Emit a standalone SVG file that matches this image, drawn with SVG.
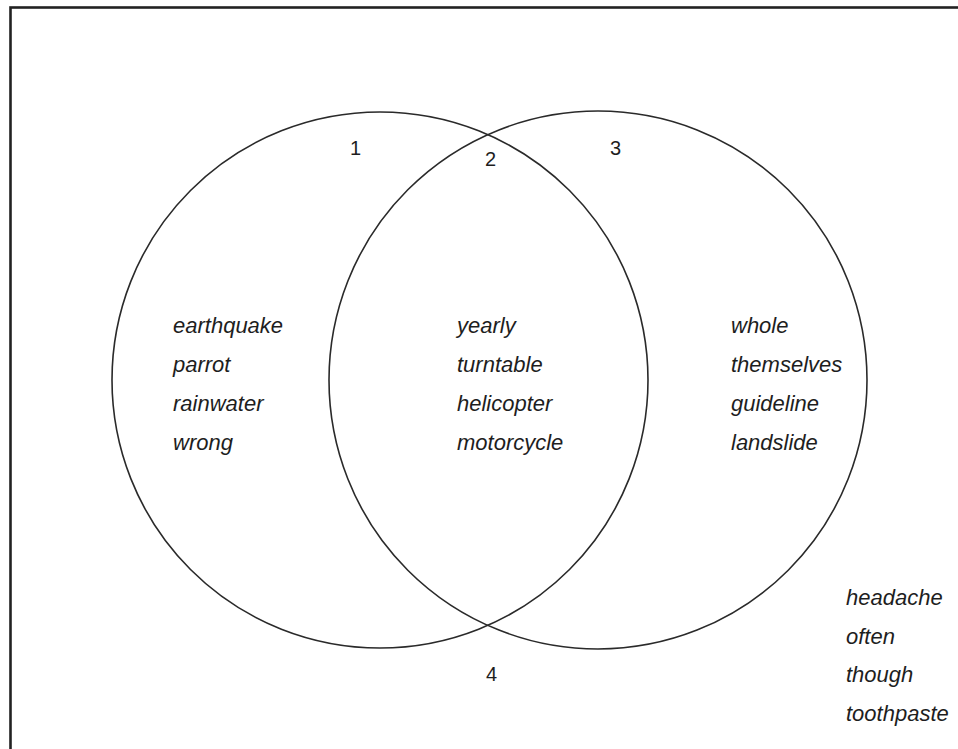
<svg xmlns="http://www.w3.org/2000/svg" width="958" height="749" viewBox="0 0 958 749">
  <style>
    .set { fill: none; stroke: #2a2a2a; stroke-width: 1.6; }
    .word { font-family: "Liberation Sans", Arial, sans-serif; font-style: italic; font-size: 22px; fill: #1e1e1e; }
    .num { font-family: "Liberation Sans", Arial, sans-serif; font-size: 20px; fill: #1e1e1e; }
  </style>
  <rect x="0" y="0" width="958" height="749" fill="#ffffff"/>
  <!-- frame: only the top and left edges fall inside the canvas -->
  <rect x="10.5" y="7.5" width="1000" height="1000" fill="none" stroke="#222222" stroke-width="2.6"/>

  <g id="set-left">
    <circle class="set" cx="380" cy="380" r="268"/>
  </g>
  <g id="set-right">
    <circle class="set" cx="598" cy="380" r="269"/>
  </g>

  <g id="region-labels">
    <text class="num" x="350" y="155">1</text>
    <text class="num" x="485" y="166">2</text>
    <text class="num" x="610" y="155">3</text>
    <text class="num" x="486" y="681">4</text>
  </g>

  <g id="region-1">
    <text class="word" x="173" y="333">earthquake</text>
    <text class="word" x="173" y="372">parrot</text>
    <text class="word" x="173" y="411">rainwater</text>
    <text class="word" x="173" y="450">wrong</text>
  </g>
  <g id="region-2">
    <text class="word" x="457" y="333">yearly</text>
    <text class="word" x="457" y="372">turntable</text>
    <text class="word" x="457" y="411">helicopter</text>
    <text class="word" x="457" y="450">motorcycle</text>
  </g>
  <g id="region-3">
    <text class="word" x="731" y="333">whole</text>
    <text class="word" x="731" y="372">themselves</text>
    <text class="word" x="731" y="411">guideline</text>
    <text class="word" x="731" y="450">landslide</text>
  </g>
  <g id="region-4">
    <text class="word" x="846" y="605">headache</text>
    <text class="word" x="846" y="644">often</text>
    <text class="word" x="846" y="682">though</text>
    <text class="word" x="846" y="721">toothpaste</text>
  </g>
</svg>
